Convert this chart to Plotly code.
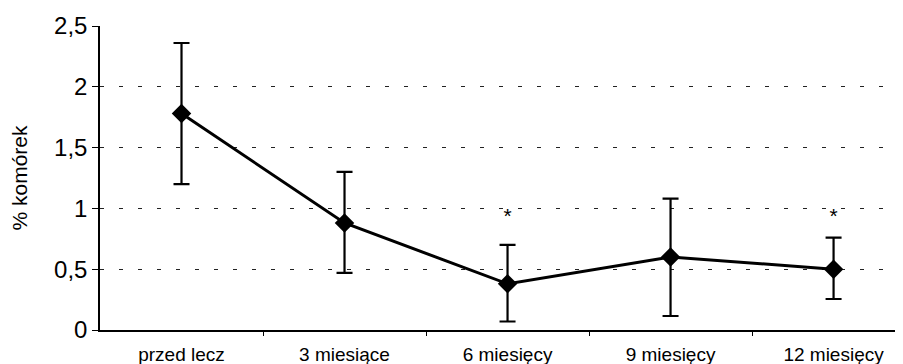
import plotly.graph_objects as go

categories = ["przed lecz", "3 miesiące", "6 miesięcy", "9 miesięcy", "12 miesięcy"]
values = [1.78, 0.88, 0.38, 0.60, 0.50]
upper = [2.36, 1.30, 0.70, 1.08, 0.76]
lower = [1.20, 0.47, 0.07, 0.115, 0.255]
significant = ["", "", "*", "", "*"]
star_level = 0.92

err_plus = [u - v for u, v in zip(upper, values)]
err_minus = [v - l for v, l in zip(values, lower)]

fig = go.Figure()
fig.add_trace(go.Scatter(
    x=list(range(len(categories))), y=values, mode="lines+markers",
    line=dict(color="black", width=3),
    marker=dict(symbol="diamond", size=15, color="black"),
    error_y=dict(type="data", symmetric=False, array=err_plus, arrayminus=err_minus,
                 color="black", thickness=2.2, width=8),
    showlegend=False,
))
star_x = [i for i, s in enumerate(significant) if s]
fig.add_trace(go.Scatter(
    x=star_x, y=[star_level] * len(star_x), mode="text",
    text=[significant[i] for i in star_x],
    textfont=dict(size=21, color="black", family="Liberation Sans, Arial"),
    showlegend=False,
))

fig.update_layout(
    width=903, height=364,
    margin=dict(l=92, r=0, t=18, b=42),
    paper_bgcolor="white", plot_bgcolor="white",
    separators=", ",
    font=dict(family="Liberation Sans, Arial", color="black"),
)
fig.update_xaxes(
    range=[-0.5, 4.475],
    tickmode="array", tickvals=list(range(len(categories))), ticktext=categories,
    showgrid=False, zeroline=False,
    showline=True, linecolor="black", linewidth=1.5,
    ticks="", tickfont=dict(size=19),
    ticklabelstandoff=6,
)
# boundary ticks drawn via minor ticks
fig.update_xaxes(minor=dict(tickvals=[0.5, 1.5, 2.5, 3.5], ticks="outside", ticklen=4,
                            tickcolor="black", tickwidth=1, showgrid=False))
fig.update_yaxes(
    range=[0, 2.5], tickvals=[0, 0.5, 1, 1.5, 2, 2.5],
    showgrid=True, gridcolor="#222222", gridwidth=1.3, griddash="4px,15px",
    zeroline=False, showline=True, linecolor="black", linewidth=1.5,
    ticks="outside", ticklen=6, tickcolor="black",
    tickfont=dict(size=24),
    title=dict(text="% komórek", font=dict(size=21), standoff=26),
)
fig.write_html("out.html")
